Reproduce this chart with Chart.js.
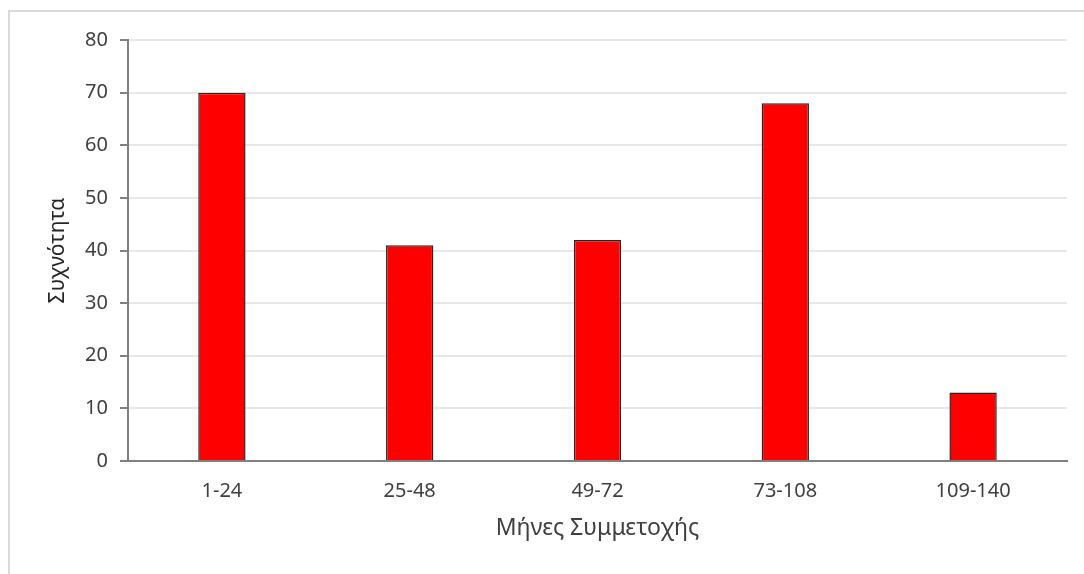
<!DOCTYPE html>
<html>
<head>
<meta charset="utf-8">
<script src="https://cdn.jsdelivr.net/npm/chart.js@4/dist/chart.umd.min.js"></script>
<style>
  html, body { margin: 0; padding: 0; background: #fff; }
  #wrap { position: relative; width: 1084px; height: 574px; }
  #frame {
    position: absolute; left: 8px; top: 10px; right: 0; bottom: 0;
    border-left: 2px solid #d9d9d9; border-top: 2px solid #d9d9d9;
  }
  #chart { position: absolute; left: 0; top: 0; }
</style>
</head>
<body>
<div id="wrap">
  <div id="frame"></div>
  <canvas id="chart" width="1084" height="574"></canvas>
</div>
<script>
// === Data ===
const categories = ['1-24', '25-48', '49-72', '73-108', '109-140'];
const frequency = [70, 41, 42, 68, 13];
const yTicks = [0, 10, 20, 30, 40, 50, 60, 70, 80];

const FONT = "'Noto Sans', 'Open Sans', sans-serif";
const AXIS_COLOR = '#808080';
const TEXT_COLOR = '#404040';

const ctx = document.getElementById('chart');

new Chart(ctx, {
    type: 'bar',
    data: {
        labels: categories,
        datasets: [{
            data: frequency,
            backgroundColor: '#ff0000',
            borderColor: '#262626',
            borderWidth: 1.5,
            borderSkipped: 'bottom',
            barPercentage: 0.252,
            categoryPercentage: 1.0,
        }]
    },
    options: {
        responsive: false,
        animation: false,
        layout: { padding: { left: 36, right: 17, top: 40, bottom: 20 } },
        plugins: {
            legend: { display: false },
            tooltip: { enabled: false },
        },
        scales: {
            x: {
                grid: { display: false, drawTicks: false },
                border: { display: true, color: AXIS_COLOR, width: 2 },
                ticks: { color: TEXT_COLOR, font: { family: FONT, size: 20 }, padding: 18 },
                title: {
                    display: true,
                    text: 'Μήνες Συμμετοχής',
                    color: TEXT_COLOR,
                    font: { family: FONT, size: 23 },
                    padding: { top: 12, bottom: 12 },
                },
                afterFit: (scale) => { scale.height = 93; },
            },
            y: {
                min: 0,
                max: 80,
                afterBuildTicks: (scale) => { scale.ticks = yTicks.map(v => ({ value: v })); },
                grid: {
                    color: '#e8e8e8',
                    lineWidth: 2,
                    tickColor: AXIS_COLOR,
                    tickLength: 8,
                },
                border: { display: true, color: AXIS_COLOR, width: 2 },
                ticks: { color: TEXT_COLOR, font: { family: FONT, size: 20 }, padding: 12 },
                title: {
                    display: true,
                    text: 'Συχνότητα',
                    color: '#262626',
                    font: { family: FONT, size: 21 },
                    padding: { top: 9, bottom: 9 },
                },
                afterFit: (scale) => { scale.width = 92; },
            }
        }
    }
});
</script>
</body>
</html>
